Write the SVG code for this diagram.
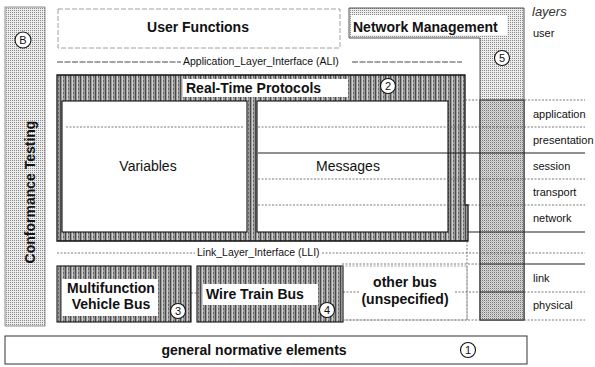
<svg xmlns="http://www.w3.org/2000/svg" width="595" height="367" viewBox="0 0 595 367">
<defs>
<pattern id="stip" width="2" height="2" patternUnits="userSpaceOnUse">
<rect width="2" height="2" fill="#ececec"/>
<rect width="1" height="1" fill="#8a8a8a"/>
</pattern>
<pattern id="stip2" width="2" height="2" patternUnits="userSpaceOnUse">
<rect width="2" height="2" fill="#d8d8d8"/>
<rect width="1" height="1" fill="#777"/>
<rect x="1" y="1" width="1" height="1" fill="#bbb"/>
</pattern>
<pattern id="hatch" width="5" height="4" patternUnits="userSpaceOnUse">
<rect width="5" height="4" fill="#9a9a9a"/>
<rect x="0" width="1" height="4" fill="#4a4a4a"/>
<rect x="2" width="1" height="4" fill="#d0d0d0"/>
<rect x="3" y="0" width="1" height="2" fill="#666"/>
</pattern>
<style>
text{font-family:"Liberation Sans",Arial,sans-serif;fill:#111}
.b{font-size:14px;font-weight:bold}
.r{font-size:14px}
.s{font-size:10.5px}
.lay{font-size:11px}
.num{font-size:11px;text-anchor:middle}
.dot{stroke:#555;stroke-width:0.8;stroke-dasharray:2 1.5;fill:none}
.dash{stroke:#333;stroke-width:0.9;stroke-dasharray:6 1.5;fill:none}
.sol{stroke:#222;stroke-width:1.1;fill:none}
.circ{fill:#fff;stroke:#111;stroke-width:1.1}
</style>
</defs>
<rect width="595" height="367" fill="#fff"/>

<g id="conformance">
<rect x="5" y="7" width="40" height="319" fill="url(#stip)" stroke="#777" stroke-width="0.8"/>
<circle class="circ" cx="23" cy="40" r="8"/>
<text class="num" x="23" y="44">B</text>
<text class="b" transform="translate(35,192) rotate(-90)" text-anchor="middle">Conformance Testing</text>
</g>

<g id="user-functions">
<rect x="58" y="9" width="282" height="39" fill="#fff" stroke="#888" stroke-width="0.8" stroke-dasharray="5 2"/>
<text class="b" x="198" y="32" text-anchor="middle">User Functions</text>
</g>

<g id="network-management">
<path d="M349,8 H524 V320 H480 V38 H349 Z" fill="url(#stip)" stroke="#444" stroke-width="0.9"/>
<rect x="351" y="15" width="156" height="20" fill="#fff"/>
<text class="b" x="353" y="32">Network Management</text>
<circle class="circ" cx="502" cy="58" r="7.5"/>
<text class="num" x="502" y="62">5</text>
</g>

<g id="ali">
<line class="dash" x1="57" y1="62" x2="181" y2="62"/>
<text class="s" x="183" y="65">Application_Layer_Interface (ALI)</text>
<line class="dash" x1="352" y1="62" x2="462" y2="62"/>
</g>

<g id="real-time-protocols">
<path d="M57,75 H465 V205 H468 V241 H57 Z" fill="url(#hatch)" stroke="#111" stroke-width="1.3"/>
<rect x="183" y="79" width="165" height="18" fill="#fff"/>
<text class="b" x="186" y="93">Real-Time Protocols</text>
<circle class="circ" cx="388" cy="86" r="7.5"/>
<text class="num" x="388" y="90">2</text>
</g>

<g id="variables">
<rect x="62" y="101" width="185" height="131" fill="#fff" stroke="#111" stroke-width="1.1"/>
<line class="dot" x1="66" y1="127" x2="243" y2="127"/>
<text class="r" x="148" y="171" text-anchor="middle">Variables</text>
</g>

<g id="messages">
<rect x="257" y="101" width="191" height="131" fill="#fff" stroke="#111" stroke-width="1.1"/>
<text class="r" x="348" y="171" text-anchor="middle">Messages</text>
</g>

<g id="layer-column">
<rect x="480" y="100" width="44" height="220" fill="url(#stip2)" stroke="#222" stroke-width="1"/>
</g>

<g id="connectors">
<line class="dot" x1="465" y1="100" x2="585" y2="100"/>
<line class="dot" x1="258" y1="127" x2="585" y2="127"/>
<line class="sol" x1="258" y1="153" x2="585" y2="153"/>
<line class="dot" x1="258" y1="179" x2="585" y2="179"/>
<line class="dot" x1="258" y1="205" x2="585" y2="205"/>
<line class="sol" x1="468" y1="232" x2="585" y2="232"/>
<line class="dot" x1="342" y1="264" x2="480" y2="264"/>
<line class="sol" x1="480" y1="264" x2="585" y2="264"/>
<line class="dot" x1="467" y1="241" x2="467" y2="320"/>
<line class="dot" x1="191" y1="293" x2="197" y2="293"/>
<line class="dot" x1="343" y1="292" x2="360" y2="292"/>
<line class="dot" x1="455" y1="292" x2="480" y2="292"/>
<line class="sol" x1="480" y1="292" x2="524" y2="292"/>
<line class="dot" x1="524" y1="292" x2="585" y2="292"/>
<line class="dot" x1="342" y1="320" x2="585" y2="320"/>
</g>

<g id="lli">
<line class="dot" x1="57" y1="253" x2="195" y2="253"/>
<text class="s" x="197" y="256">Link_Layer_Interface (LLI)</text>
<line class="dot" x1="322" y1="253" x2="585" y2="253"/>
</g>

<g id="layers">
<text x="532" y="16" style="font-size:13px;font-style:italic;fill:#333">layers</text>
<text class="lay" x="533" y="37">user</text>
<text class="lay" x="533" y="118">application</text>
<text class="lay" x="533" y="144">presentation</text>
<text class="lay" x="533" y="170">session</text>
<text class="lay" x="533" y="196">transport</text>
<text class="lay" x="533" y="222">network</text>
<text class="lay" x="533" y="282">link</text>
<text class="lay" x="533" y="309">physical</text>
</g>

<g id="mvb">
<rect x="57" y="266" width="134" height="56" fill="url(#hatch)" stroke="#111" stroke-width="1.1"/>
<rect x="62" y="279" width="96" height="37" fill="#fff"/>
<text class="b" x="111" y="293" text-anchor="middle">Multifunction</text>
<text class="b" x="111" y="309" text-anchor="middle">Vehicle Bus</text>
<circle class="circ" cx="178" cy="311" r="7.5"/>
<text class="num" x="178" y="315">3</text>
</g>

<g id="wtb">
<rect x="197" y="266" width="146" height="56" fill="url(#hatch)" stroke="#111" stroke-width="1.1"/>
<rect x="203" y="284" width="115" height="21" fill="#fff"/>
<text class="b" x="206" y="299">Wire Train Bus</text>
<circle class="circ" cx="327" cy="310" r="7.5"/>
<text class="num" x="327" y="314">4</text>
</g>

<g id="other-bus">
<rect x="342" y="266" width="125" height="54" fill="none" stroke="#888" stroke-width="0.8" stroke-dasharray="2 1.5"/>
<text class="b" x="405" y="287" text-anchor="middle">other bus</text>
<text class="b" x="405" y="304" text-anchor="middle">(unspecified)</text>
</g>

<g id="general">
<rect x="5" y="336" width="522" height="28" fill="#fff" stroke="#333" stroke-width="1"/>
<text class="b" x="254" y="355" text-anchor="middle">general normative elements</text>
<circle class="circ" cx="468" cy="350" r="7.5"/>
<text class="num" x="468" y="354">1</text>
</g>
</svg>
